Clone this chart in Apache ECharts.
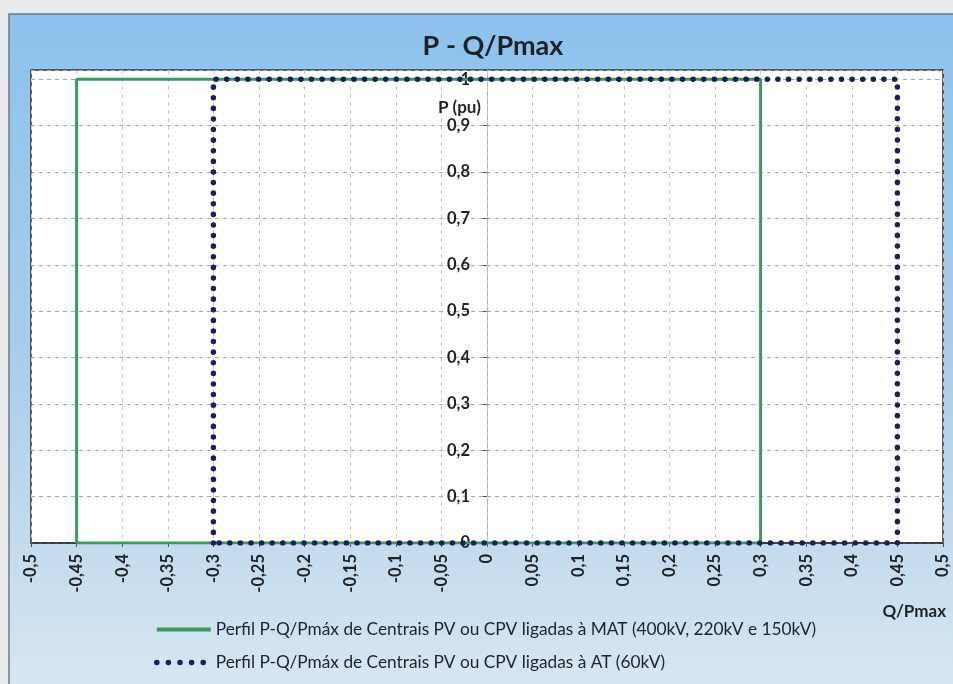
<!DOCTYPE html>
<html><head><meta charset="utf-8">
<script src="https://cdn.jsdelivr.net/npm/echarts@6/dist/echarts.min.js"></script>
<style>html,body{margin:0;padding:0;background:#e9ebed;}#c{width:953px;height:684px;}</style>
</head><body><div id="c"></div>
<script>
// Data
const qMAT = [-0.45, -0.45, 0.30, 0.30, -0.45];
const pMAT = [0, 1, 1, 0, 0];
const qAT = [-0.30, -0.30, 0.45, 0.45, -0.30];
const pAT = [0, 1, 1, 0, 0];
const nameMAT = 'Perfil P-Q/Pmáx de Centrais PV ou CPV ligadas à MAT (400kV, 220kV e 150kV)';
const nameAT = 'Perfil P-Q/Pmáx de Centrais PV ou CPV ligadas à AT (60kV)';
const xMin = -0.5, xMax = 0.5, xStep = 0.05;
const yMin = 0, yMax = 1.02, yStep = 0.1;

const fmt = v => String(Math.round(v * 100) / 100).replace('.', ',');
const FONT = 'Lato, "Open Sans", sans-serif';
const GREEN = '#3a9a5c', NAVY = '#1c1f5c';
const dotStyle = {color: NAVY, width: 5.5, type: [0.1, 10.5], cap: 'round'};

const chart = echarts.init(document.getElementById('c'), null, {renderer: 'canvas'});
chart.setOption({
  animation: false,
  backgroundColor: 'transparent',
  textStyle: {fontFamily: FONT},
  graphic: [{
    type: 'rect', z: -10, silent: true,
    shape: {x: 9, y: 14, width: 950, height: 675},
    style: {
      fill: new echarts.graphic.LinearGradient(0, 0, 0, 1, [
        {offset: 0, color: '#8cc2ee'},
        {offset: 0.5, color: '#a9cdea'},
        {offset: 1, color: '#d8e6f1'}
      ]),
      stroke: '#6d7a86', lineWidth: 1.5
    }
  }],
  title: {
    text: 'P - Q/Pmax', left: 488, top: 28, textAlign: 'center',
    textStyle: {fontSize: 27, fontWeight: 'bold', color: '#1e2226', fontFamily: FONT}
  },
  legend: {
    orient: 'vertical', left: 149, top: 616, itemGap: 16,
    itemWidth: 54, itemHeight: 14,
    textStyle: {fontSize: 17.3, color: '#1e2230', fontFamily: FONT},
    itemStyle: {opacity: 0},
    data: [
      {name: nameMAT, lineStyle: {color: GREEN, width: 4}},
      {name: nameAT, lineStyle: {color: NAVY, width: 5.5, type: [0.1, 11.5], cap: 'round'}}
    ]
  },
  grid: {
    left: 31, right: 10, top: 70, bottom: 141,
    show: true, backgroundColor: '#ffffff', borderColor: '#2a3238', borderWidth: 1.5
  },
  xAxis: {
    type: 'value', min: xMin, max: xMax, interval: xStep,
    name: 'Q/Pmax', nameLocation: 'end', nameGap: 3,
    nameTextStyle: {align: 'right', verticalAlign: 'top', padding: [60, 0, 0, 0],
      fontSize: 17, fontWeight: 'bold', color: '#1e2226', fontFamily: FONT},
    axisLine: {show: true, onZero: false, lineStyle: {color: '#2a3238', width: 1.5}},
    axisTick: {show: true, length: 4, lineStyle: {color: '#555'}},
    axisLabel: {rotate: 90, margin: 11, fontSize: 16.5, fontWeight: 'bold', color: '#1e2226',
      fontFamily: FONT, formatter: fmt},
    splitLine: {show: true, lineStyle: {type: [4, 4], color: '#c8c8c8', width: 1}}
  },
  yAxis: {
    type: 'value', min: yMin, max: yMax, interval: yStep,
    offset: -456,
    name: 'P (pu)', nameLocation: 'end', nameGap: -46,
    nameTextStyle: {align: 'right', padding: [0, 6, 0, 0], fontSize: 17, fontWeight: 'bold',
      color: '#1e2226', fontFamily: FONT},
    axisLine: {show: true, onZero: false, lineStyle: {color: '#b0b0b0', type: [4, 4], width: 1}},
    axisTick: {show: true, length: 4, lineStyle: {color: '#555'}},
    axisLabel: {margin: 17, fontSize: 16.5, fontWeight: 'bold', color: '#1e2226', fontFamily: FONT,
      formatter: v => (v > 1.001 ? '' : fmt(v))},
    splitLine: {show: true, lineStyle: {type: [4, 4], color: '#a8a8a8', width: 1}}
  },
  series: [{
    name: nameMAT, type: 'line', symbol: 'none',
    data: qMAT.map((q, i) => [q, pMAT[i]]),
    lineStyle: {color: GREEN, width: 3},
    itemStyle: {color: GREEN}, z: 3
  }, {
    name: nameAT, type: 'line', symbol: 'none',
    data: qAT.map((q, i) => [q, pAT[i]]),
    lineStyle: dotStyle,
    itemStyle: {color: NAVY}, z: 4
  }]
});
</script></body></html>
